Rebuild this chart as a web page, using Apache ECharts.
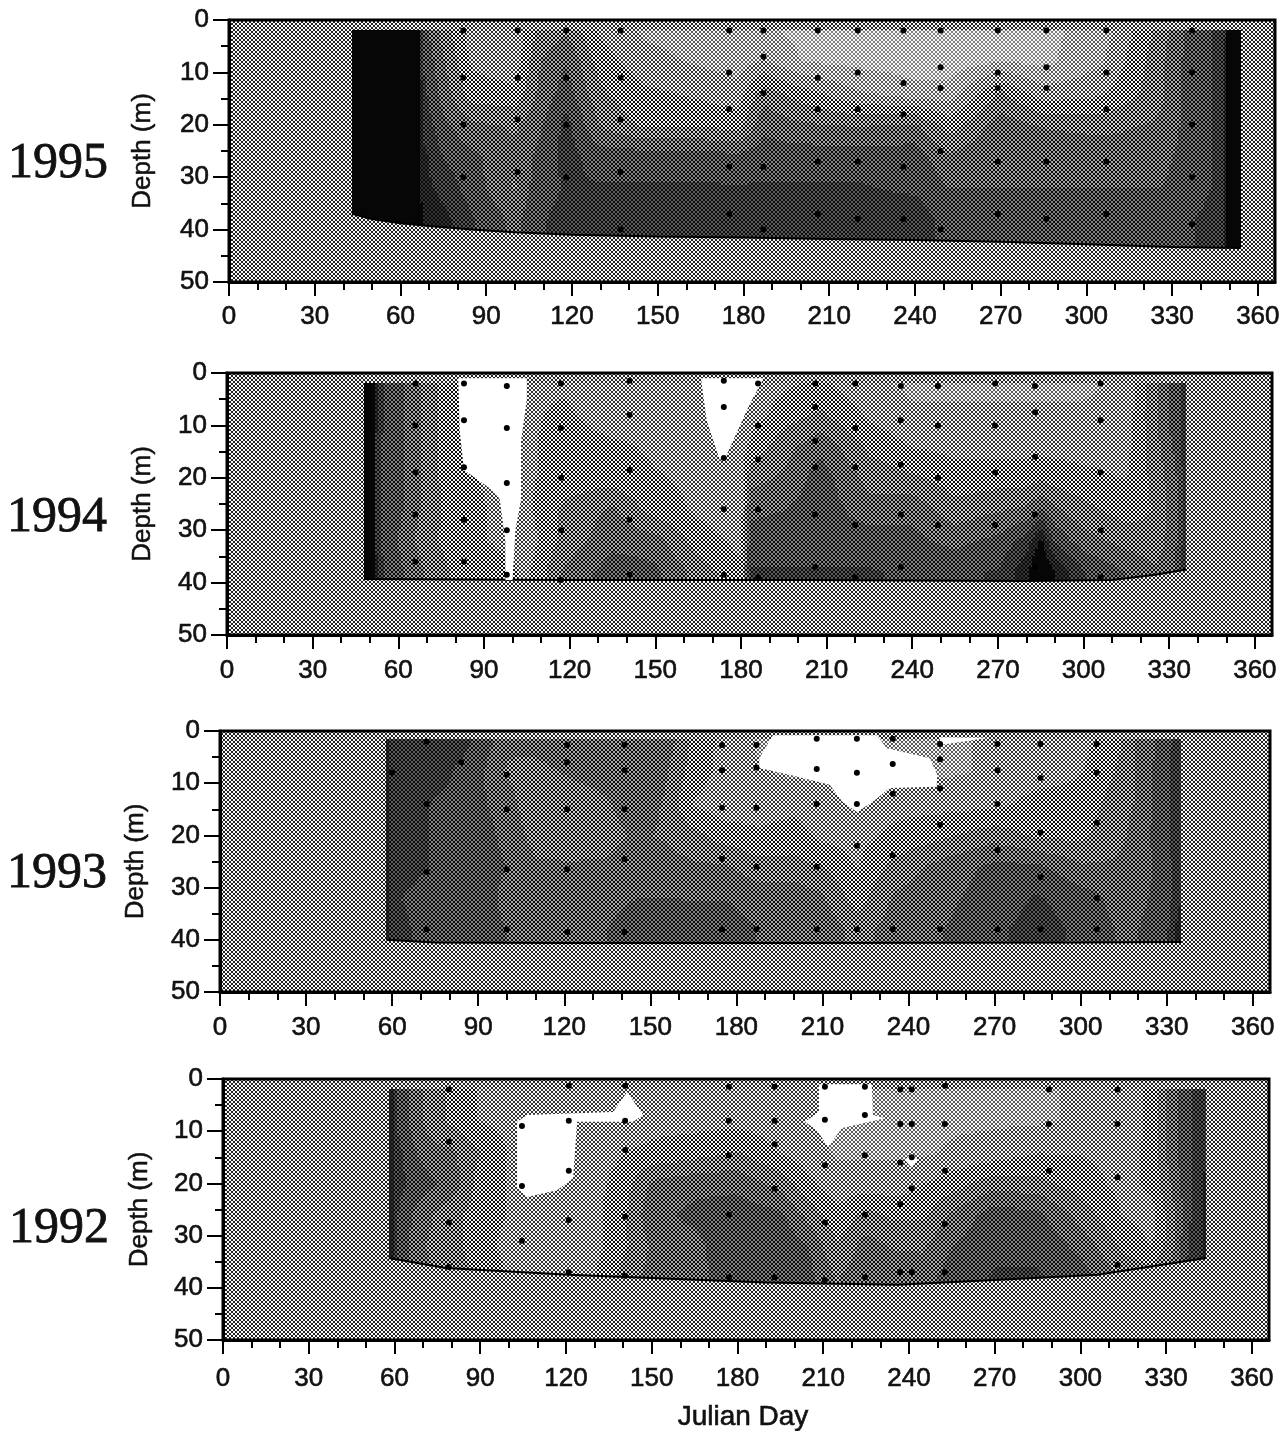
<!DOCTYPE html>
<html><head><meta charset="utf-8">
<script src="https://cdn.jsdelivr.net/npm/echarts@6/dist/echarts.min.js"></script>
<style>html,body{margin:0;padding:0;background:#fff}#c{width:1285px;height:1431px}</style>
</head><body><div id="c"></div>
<script>
var years = ['1995','1994','1993','1992'];
var majorDays = [0,30,60,90,120,150,180,210,240,270,300,330,360];
var minorDays = [10,20,40,50,70,80,100,110,130,140,160,170,190,200,220,230,250,260,280,290,310,320,340,350];
var rowDepths = [2,8,14,20,26,32,38];

var days95 = [43,66,68,75,85,100,108,118,130,145,165,178,187,200,220,240,252,270,285,305,325,335,348,350,354];
var shade95 = [
 [100,100,72,58,42,40,55,60,45,38,35,33,33,30,28,28,28,30,30,35,55,70,78,95,95],
 [100,100,75,62,45,42,60,68,50,42,38,36,40,32,30,28,28,32,30,38,58,70,78,100,100],
 [100,100,78,65,50,48,62,72,55,48,45,42,58,50,40,35,35,55,42,45,58,70,78,100,100],
 [100,100,80,70,62,60,66,78,60,52,52,50,66,62,60,62,50,65,60,58,62,70,78,100,100],
 [100,100,85,75,70,62,70,78,72,72,72,70,72,72,72,72,62,68,68,66,66,70,78,100,100],
 [100,100,85,80,72,60,72,76,76,76,76,76,76,76,76,74,68,68,68,68,68,70,78,100,100],
 [100,100,88,85,76,66,74,78,78,78,78,78,78,78,78,80,72,72,72,72,72,74,80,100,100]];
var bottom95 = [[43,37],[50,38],[60,38.8],[70,39.3],[85,40],[100,40.5],[120,41],[150,41.3],[180,41.5],[210,41.8],[240,42],[270,42.3],[300,42.8],[330,43.3],[354,43.5]];
var white95 = [];
var samples95 = [[82,2],[82,11],[82,20],[82,30],[101,2],[101,11],[101,19],[101,29],[118,2],[118,11],[118,20],[118,30],[137,2],[137,11],[137,19],[137,29],[137,40],[175,2],[175,10],[175,17],[175,28],[175,37],[187,2],[187,7],[187,14],[187,28],[187,40],[206,2],[206,11],[206,17],[206,27],[206,37],[220,2],[220,10],[220,17],[220,27],[220,38],[236,2],[236,12],[236,18],[236,28],[236,38],[249,2],[249,9],[249,13],[249,25],[249,40],[269,2],[269,10],[269,13],[269,27],[269,37],[286,2],[286,9],[286,13],[286,27],[286,38],[307,2],[307,10],[307,17],[307,27],[307,37],[337,2],[337,10],[337,20],[337,30],[337,39]];

var days94 = [48,51,53,60,70,80,95,105,118,135,150,165,180,183,195,208,225,240,255,270,280,285,290,300,315,325,332,336];
var shade94 = [
 [100,100,78,70,58,48,45,45,45,42,42,42,42,42,45,48,40,38,38,38,38,38,38,38,40,60,72,80],
 [100,100,78,70,58,48,45,45,48,42,42,42,42,42,50,55,45,40,40,40,40,40,40,40,42,60,72,80],
 [100,100,76,70,58,48,45,45,50,48,45,45,42,48,58,66,52,46,44,44,44,44,44,44,44,58,70,80],
 [100,100,76,70,58,48,45,45,50,50,47,45,42,58,62,72,58,55,50,50,50,52,50,48,46,56,66,80],
 [100,100,76,70,58,50,45,45,55,62,50,45,42,66,68,72,64,66,56,60,62,68,62,56,50,54,66,80],
 [100,100,76,68,56,50,45,42,56,66,64,50,44,72,72,72,72,70,66,70,78,92,74,64,58,56,66,80],
 [100,100,78,70,60,52,50,45,62,72,70,58,48,76,76,76,76,74,74,76,88,100,90,76,68,62,68,84]];
var bottom94 = [[48,39.3],[120,39.5],[200,39.5],[280,39.7],[310,39.5],[325,38.5],[336,37.5]];
var white94 = [
 [[81,1],[105,1],[105,5],[103,13],[103,24],[101,30],[100,39.5],[97.5,39.5],[97.5,32],[95.5,24],[92,22],[83,18.5],[81.5,11]],
 [[166,1],[188,1],[183,6],[175,15.6],[172.6,16.6],[168,9]]];
var samples94 = [[66,2],[66,10],[66,19],[66,27],[66,36],[83,2],[83,9],[83,18],[83,28],[83,36],[98,2.5],[98,10.5],[98,21],[98,30],[98,38.5],[117,2],[117,10.5],[117,20],[117,30],[117,39.5],[141,1.5],[141,8],[141,18.5],[141,28],[141,38.5],[174,1.5],[174,6.5],[174,16.2],[174,26],[174,38.5],[186,2],[186,10],[186,16.5],[186,26],[186,39],[206,2],[206,6.5],[206,13],[206,18],[206,27],[206,37],[220,2],[220,10.5],[220,18],[220,29],[220,39],[236,2.5],[236,9],[236,17.5],[236,27],[236,37],[249,2.5],[249,10],[249,20],[249,29],[269,2],[269,10],[269,19],[269,29],[283,2.5],[283,7.5],[283,16],[283,27],[283,37],[306,2],[306,9],[306,19],[306,30],[306,39]];

var days93 = [58,60,70,80,90,100,110,122,135,145,155,165,176,188,200,210,222,235,252,270,285,300,312,320,330,335];
var shade93 = [
 [85,78,76,80,74,62,64,66,66,68,66,52,44,38,36,36,34,36,38,40,42,44,50,62,72,82],
 [85,78,78,76,70,60,58,62,64,68,62,50,44,40,38,38,40,40,38,40,42,46,54,62,74,82],
 [85,78,76,74,70,64,56,56,60,66,60,46,42,42,44,42,42,44,44,44,50,50,56,62,74,82],
 [85,78,76,74,72,66,58,56,58,62,60,56,50,48,50,44,44,48,52,58,52,52,58,64,74,82],
 [85,78,76,74,72,68,62,62,62,66,64,62,62,56,56,54,46,56,64,70,70,62,62,64,72,82],
 [85,76,74,74,72,66,64,66,66,68,68,68,68,66,66,62,50,62,66,72,76,72,66,66,72,82],
 [88,78,74,74,72,68,66,68,68,72,72,70,70,68,68,66,58,64,68,74,78,74,68,68,74,88]];
var bottom93 = [[58,40],[75,40.5],[120,40.6],[200,40.6],[300,40.5],[335,40.4]];
var white93 = [
 [[192.7,0.8],[188,5.2],[188,7.1],[198.6,8.4],[212.5,10.3],[217,13.6],[222,15.5],[227.5,13.6],[233.4,10.9],[249.8,10.7],[250,8.4],[247.4,5.2],[232.4,3.3],[229,0.8]],
 [[251,2.7],[268,1.3],[251,1.2]]];
var samples93 = [[60,8],[72,2],[72,14],[72,27],[72,38],[84,6],[100,8.4],[100,15],[100,26.5],[100,38],[121,2.7],[121,6],[121,15],[121,26.5],[121,38.5],[141,2.7],[141,7.5],[141,15],[141,24.5],[141,38.5],[175,2.7],[175,7.5],[175,14.7],[175,24.5],[175,38],[187,2.7],[187,7],[187,14.7],[187,26],[187,38],[208,1.5],[208,7.3],[208,14],[208,26],[208,38],[222,1.5],[222,8],[222,14],[222,22],[222,38],[234.5,1.5],[234.5,6.3],[234.5,12],[234.5,23.8],[234.5,38],[251,2.5],[251,5.4],[251,11],[251,18],[251,38],[271,2.5],[271,7.5],[271,14],[271,22.8],[271,38],[286,2.5],[286,9],[286,19.5],[286,28],[286,38],[305.6,2.5],[305.6,8],[305.6,17.6],[305.6,32],[305.6,38]];

var days92 = [58,61,66,72,80,90,100,115,130,140,150,165,180,195,205,215,225,235,245,255,270,285,300,315,325,332,338,344];
var shade92 = [
 [92,74,66,58,52,46,44,42,42,42,42,40,40,40,40,38,38,38,38,38,38,38,40,42,48,66,74,82],
 [92,74,66,58,52,46,44,42,42,42,44,44,44,42,40,38,38,38,38,38,38,38,40,42,48,66,74,82],
 [92,78,70,64,62,54,46,42,42,46,48,50,54,46,42,38,38,38,38,40,42,46,46,44,48,66,74,82],
 [92,78,74,70,66,50,46,44,44,50,62,66,66,58,48,42,42,42,46,50,58,56,50,44,48,62,74,84],
 [92,76,68,62,56,50,46,44,44,52,66,70,72,70,58,48,56,52,52,62,72,70,58,46,44,58,74,84],
 [92,76,66,60,56,50,44,44,44,52,62,66,74,74,68,54,64,60,60,68,74,74,66,52,46,58,76,84],
 [92,76,68,62,58,52,46,46,46,56,64,66,72,74,70,60,68,66,64,72,76,76,72,60,58,66,78,86]];
var bottom92 = [[58,34.3],[78,36.2],[121,37.5],[190,39],[236,39.4],[270,38.5],[306,37.5],[344,34.3]];
var white92 = [
 [[102.9,8.2],[106.4,6.9],[136.5,6.3],[141.4,2.5],[147,6.9],[143.5,8.2],[123.9,8.2],[122.5,19],[116.9,21.3],[106.4,22.6],[102.9,20.9]],
 [[208.5,1],[227,1],[227.4,6.9],[231.6,7.5],[216.6,9.4],[211.7,13],[207.8,9.8],[203.6,8.2],[208.5,6.3]],
 [[238.6,15.5],[241,14.2],[243,15.5],[241,17]]];
var samples92 = [[79,2],[79,12],[79,27.5],[79,36],[104.6,9],[104.6,20.5],[104.6,31],[121,1.3],[121,8],[121,17.6],[121,27],[121,37],[140.7,1.3],[140.7,8],[140.7,13.6],[140.7,26.4],[140.7,37.7],[177,1.5],[177,8],[177,14.6],[177,26],[177,38],[193,1.5],[193,8],[193,12.5],[193,21],[193,38],[210.6,1.5],[210.6,7.8],[210.6,16.5],[210.6,27.5],[210.6,38.5],[224.6,1.5],[224.6,6.9],[224.6,14.6],[224.6,26],[224.6,38],[237,2],[237,8.6],[237,16],[237,24],[237,37],[241,2],[241,8.6],[241,15],[241,21],[241,37],[252.6,1.3],[252.6,8.6],[252.6,17.6],[252.6,27.8],[252.6,37],[289,2],[289,8.6],[289,17.6],[313,2],[313,8.6],[313,18.8],[313,35.6]];

var yearData = [
 {d:days95,s:shade95,b:bottom95,w:white95,p:samples95,top:2},
 {d:days94,s:shade94,b:bottom94,w:white94,p:samples94,top:2},
 {d:days93,s:shade93,b:bottom93,w:white93,p:samples93,top:1.5},
 {d:days92,s:shade92,b:bottom92,w:white92,p:samples92,top:2}];

var frames = [
 {left:229,top:20,width:1046,height:262,gap:73,lm:22},
 {left:227,top:373,width:1045,height:262,gap:71,lm:23},
 {left:220,top:731,width:1050,height:261,gap:71,lm:23},
 {left:223,top:1079,width:1046,height:261,gap:70,lm:26}];
var yearPos = [[53,134],[52,488],[52,844],[54,1199]];

var LEVELS = 12, BG = 0.45, CONTRAST = 1.15;
var patternCache = {};
function makePattern(s){
  var key = s.toFixed(3);
  if (patternCache[key]) return patternCache[key];
  var c = document.createElement('canvas'); c.width = c.height = 4;
  var ctx = c.getContext('2d'), im = ctx.createImageData(4,4);
  var dots = [[1,0,0,1],[0,1,1,0],[0,1,1,0],[1,0,0,1]];
  for (var y=0;y<4;y++) for (var x=0;x<4;x++){
    var k = dots[y][x] ? Math.min(1,s*2) : Math.max(0,(s-0.5)*2);
    var g = Math.round(235*(1-k)+12), i=(y*4+x)*4;
    if (s>=1) g=6;
    im.data[i]=im.data[i+1]=im.data[i+2]=g; im.data[i+3]=255;
  }
  ctx.putImageData(im,0,0);
  return patternCache[key] = {image:c, repeat:'repeat'};
}
echarts.graphic.registerShape('cellRects', echarts.graphic.extendShape({
  type:'cellRects', shape:{rects:[]},
  buildPath:function(ctx,shape){ var r=shape.rects; for(var i=0;i<r.length;i++) ctx.rect(r[i][0],r[i][1],r[i][2],r[i][3]); }
}));
function bound(list,day){
  if (day<=list[0][0]) return list[0][1];
  for (var i=1;i<list.length;i++) if (day<=list[i][0]){
    var a=list[i-1], b=list[i]; return a[1]+(b[1]-a[1])*(day-a[0])/(b[0]-a[0]);
  }
  return list[list.length-1][1];
}
function cellsFor(y){
  var rows=[0].concat(rowDepths,[46]), out=[];
  function row(j){ return y.s[Math.max(0,Math.min(rowDepths.length-1,j-1))]; }
  for (var i=0;i<y.d.length-1;i++) for (var j=0;j<rows.length-1;j++){
    out.push([y.d[i],y.d[i+1],rows[j],rows[j+1],row(j)[i],row(j)[i+1],row(j+1)[i],row(j+1)[i+1]]);
  }
  return out;
}
function cellRender(y){
  return function(params,api){
    var d0=api.value(0),d1=api.value(1),z0=api.value(2),z1=api.value(3);
    var a=api.value(4),b=api.value(5),c=api.value(6),e=api.value(7);
    var nx=Math.max(1,Math.ceil((d1-d0)/1)), nz=Math.max(1,Math.ceil((z1-z0)/0.5));
    var groups={};
    for (var ix=0;ix<nx;ix++){
      var u0=ix/nx,u1=(ix+1)/nx,dA=d0+(d1-d0)*u0,dB=d0+(d1-d0)*u1,dM=(dA+dB)/2,um=(u0+u1)/2;
      var bot=bound(y.b,dM);
      for (var iz=0;iz<nz;iz++){
        var v0=iz/nz,v1=(iz+1)/nz,zA=z0+(z1-z0)*v0,zB=z0+(z1-z0)*v1,vm=(v0+v1)/2;
        var zTop=Math.max(zA,y.top),zBot=Math.min(zB,bot);
        if (zBot<=zTop) continue;
        var s=((a*(1-um)+b*um)*(1-vm)+(c*(1-um)+e*um)*vm)/100;
        s=Math.max(0.04,Math.min(1,0.5+(s-0.5)*CONTRAST));
        var lv=Math.round(s*LEVELS);
        var p0=api.coord([dA,zTop]),p1=api.coord([dB,zBot]);
        var x0=Math.round(p0[0]),x1=Math.round(p1[0]),y0=Math.round(p0[1]),y1=Math.round(p1[1]);
        if (x1>x0&&y1>y0) (groups[lv]=groups[lv]||[]).push([x0,y0,x1-x0,y1-y0]);
      }
    }
    var ch=[];
    for (var k in groups) ch.push({type:'cellRects',shape:{rects:groups[k]},style:{fill:makePattern(k/LEVELS)}});
    return {type:'group',children:ch};
  };
}
function whiteRender(y){
  return function(params,api){
    var poly=y.w[api.value(0)];
    return {type:'polygon',shape:{points:poly.map(function(p){return api.coord(p);})},style:{fill:'#ffffff'}};
  };
}

var ink='#111', sans='"Liberation Sans",Arimo,Helvetica,Arial,sans-serif';
var labelStyle={color:ink,fontFamily:sans,fontSize:26,textBorderColor:ink,textBorderWidth:0.6};
var grid=[],xAxis=[],yAxis=[],series=[],title=[];
years.forEach(function(name,i){
  var f=frames[i],y=yearData[i],xi=i*2;
  grid.push({left:f.left,top:f.top,width:f.width,height:f.height,outerBoundsMode:'none',show:true,borderColor:'#000',borderWidth:3,backgroundColor:makePattern(BG)});
  xAxis.push({type:'value',gridIndex:i,min:0,max:366,position:'bottom',splitLine:{show:false},
    axisLine:{show:true,onZero:false,lineStyle:{color:'#000',width:3}},
    axisTick:{show:true,length:14,customValues:majorDays,lineStyle:{color:'#000',width:2}},
    axisLabel:Object.assign({show:true,customValues:majorDays,margin:f.lm},labelStyle),
    name:i===3?'Julian Day':'',nameLocation:'middle',nameGap:63,
    nameTextStyle:{color:ink,fontFamily:sans,fontSize:28,textBorderColor:ink,textBorderWidth:0.6,padding:[0,6,0,0]}});
  xAxis.push({type:'value',gridIndex:i,min:0,max:366,position:'bottom',splitLine:{show:false},
    axisLine:{show:false,onZero:false},axisLabel:{show:false},
    axisTick:{show:true,length:8,customValues:minorDays,lineStyle:{color:'#000',width:2}}});
  yAxis.push({type:'value',gridIndex:i,inverse:true,min:0,max:50,interval:10,splitLine:{show:false},
    axisLine:{show:true,onZero:false,lineStyle:{color:'#000',width:3}},
    axisTick:{show:true,length:16,lineStyle:{color:'#000',width:2}},
    minorTick:{show:true,splitNumber:2,length:8,lineStyle:{color:'#000',width:2}},
    axisLabel:Object.assign({margin:20},labelStyle),
    name:'Depth (m)',nameLocation:'middle',nameRotate:90,nameGap:f.gap,
    nameTextStyle:{color:ink,fontFamily:sans,fontSize:26,textBorderColor:ink,textBorderWidth:0.5}});
  series.push({type:'custom',xAxisIndex:xi,yAxisIndex:i,renderItem:cellRender(y),data:cellsFor(y),
    encode:{x:[0,1],y:[2,3]},silent:true,z:1,animation:false,clip:false});
  series.push({type:'line',xAxisIndex:xi,yAxisIndex:i,data:y.b,showSymbol:false,silent:true,z:2,
    lineStyle:{color:'#000',width:2},animation:false});
  if (y.w.length) series.push({type:'custom',xAxisIndex:xi,yAxisIndex:i,renderItem:whiteRender(y),
    data:y.w.map(function(w,k){return [k,w[0][0],w[0][1]];}),encode:{x:1,y:2},silent:true,z:3,animation:false});
  series.push({type:'scatter',xAxisIndex:xi,yAxisIndex:i,data:y.p,symbol:'circle',symbolSize:6,silent:true,z:4,
    itemStyle:{color:'#000',opacity:1},animation:false});
  title.push({text:name,left:yearPos[i][0],top:yearPos[i][1],textAlign:'center',
    textStyle:{fontFamily:'"Liberation Serif",serif',fontSize:50,fontWeight:'normal',color:ink,textBorderColor:ink,textBorderWidth:0.8}});
});
var chart=echarts.init(document.getElementById('c'),null,{renderer:'canvas'});
chart.setOption({animation:false,backgroundColor:'#fff',title:title,grid:grid,xAxis:xAxis,yAxis:yAxis,series:series,tooltip:{show:false},legend:{show:false}});
</script></body></html>
